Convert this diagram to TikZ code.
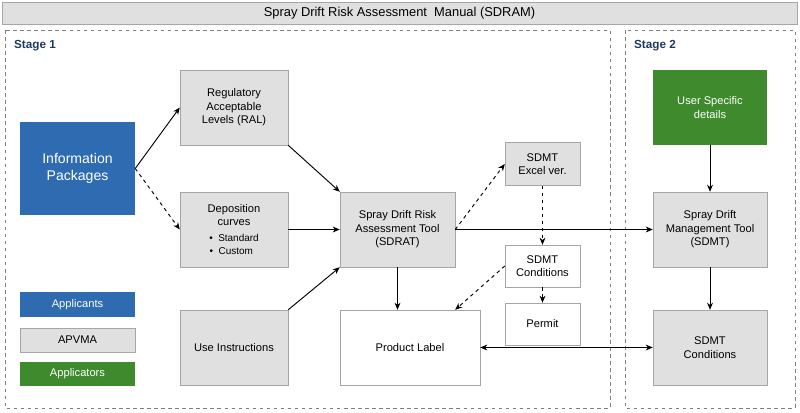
\documentclass[tikz,border=0pt]{standalone}
\usepackage{fontspec}
\setmainfont{Liberation Sans}
\usetikzlibrary{arrows.meta}
\definecolor{cblue}{HTML}{2E6BB0}
\definecolor{cgreen}{HTML}{3E8A2C}
\definecolor{cstage}{HTML}{1F3A5F}
\begin{document}
\begin{tikzpicture}[x=0.03cm,y=-0.03cm,
 box/.style={draw=black!35,fill=black!12,align=center,font=\fontsize{9.5}{11.5}\selectfont,inner sep=1pt},
 wbox/.style={box,fill=white},
 arr/.style={-{Stealth[length=6pt,width=5pt]},thick},
 darr/.style={arr,dashed},
 stage/.style={draw=black!50,dashed},
 slab/.style={font=\bfseries\fontsize{10}{12}\selectfont,text=cstage,anchor=west}]
\useasboundingbox (0,0) rectangle (800,412);
\fill[white] (0,0) rectangle (800,412);
\node[box,minimum width=795*0.03cm,minimum height=22*0.03cm,font=\fontsize{11}{13}\selectfont] (title) at (399.5,13) {Spray Drift Risk Assessment\ \ Manual (SDRAM)};
\draw[stage] (5,30) rectangle (610,408);
\draw[stage] (625,30) rectangle (795,408);
\node[slab] (s1) at (10,46) {Stage 1};
\node[slab] (s2) at (630,46) {Stage 2};
\node[box,fill=cblue,draw=none,text=white,minimum width=115*0.03cm,minimum height=93*0.03cm,font=\fontsize{12}{15}\selectfont] (info) at (77.5,168.5) {Information\\Packages};
\node[box,minimum width=108*0.03cm,minimum height=75*0.03cm] (ral) at (234,107.5) {Regulatory\\Acceptable\\Levels (RAL)};
\node[box,minimum width=108*0.03cm,minimum height=75*0.03cm] (dep) at (234,229.5) {Deposition\\curves\\[2pt]{\fontsize{8.5}{10.5}\selectfont\textbullet\ \ Standard}\\{\fontsize{8.5}{10.5}\selectfont\textbullet\ \ Custom\ \ \ }};
\node[box,minimum width=108*0.03cm,minimum height=75*0.03cm] (use) at (234,347.5) {Use Instructions};
\node[box,minimum width=115*0.03cm,minimum height=75*0.03cm] (sdrat) at (397.5,229.5) {Spray Drift Risk\\Assessment Tool\\(SDRAT)};
\node[box,minimum width=75*0.03cm,minimum height=43*0.03cm] (excel) at (542.5,164) {SDMT\\Excel ver.};
\node[wbox,minimum width=75*0.03cm,minimum height=42*0.03cm] (cond) at (542.5,266) {SDMT\\Conditions};
\node[wbox,minimum width=75*0.03cm,minimum height=42*0.03cm] (permit) at (542.5,324) {Permit};
\node[wbox,minimum width=140*0.03cm,minimum height=75*0.03cm] (label) at (410,347.5) {Product Label};
\node[box,fill=cgreen,draw=none,text=white,minimum width=114*0.03cm,minimum height=75*0.03cm] (user) at (710,107.5) {User Specific\\details};
\node[box,minimum width=114*0.03cm,minimum height=75*0.03cm] (sdmt) at (710,229.5) {Spray Drift\\Management Tool\\(SDMT)};
\node[box,minimum width=114*0.03cm,minimum height=75*0.03cm] (cond2) at (710,347.5) {SDMT\\Conditions};
\node[box,fill=cblue,draw=none,text=white,minimum width=115*0.03cm,minimum height=25*0.03cm] (lg1) at (77.5,304.5) {Applicants};
\node[box,minimum width=115*0.03cm,minimum height=24*0.03cm] (lg2) at (77.5,340) {APVMA};
\node[box,fill=cgreen,draw=none,text=white,minimum width=115*0.03cm,minimum height=24*0.03cm] (lg3) at (77.5,374) {Applicators};
\draw[arr] (info.east) -- (ral.west);
\draw[darr] (info.east) -- (dep.west);
\draw[arr] (ral.south east) -- (sdrat.north west);
\draw[arr] (dep) -- (sdrat);
\draw[arr] (use.north east) -- (sdrat.south west);
\draw[darr] (sdrat.east) -- (excel.west);
\draw[arr] (sdrat.east) -- (sdmt.west);
\draw[darr] (excel) -- (cond);
\draw[darr] (cond) -- (permit);
\draw[darr] (cond.west) -- ([xshift=-25*0.03cm]label.north east);
\draw[arr] (sdrat) -- (sdrat|-label.north);
\draw[arr,{Stealth[length=6pt,width=5pt]}-{Stealth[length=6pt,width=5pt]}] (label) -- (cond2);
\draw[arr] (user) -- (sdmt);
\draw[arr] (sdmt) -- (cond2);
\end{tikzpicture}
\end{document}
